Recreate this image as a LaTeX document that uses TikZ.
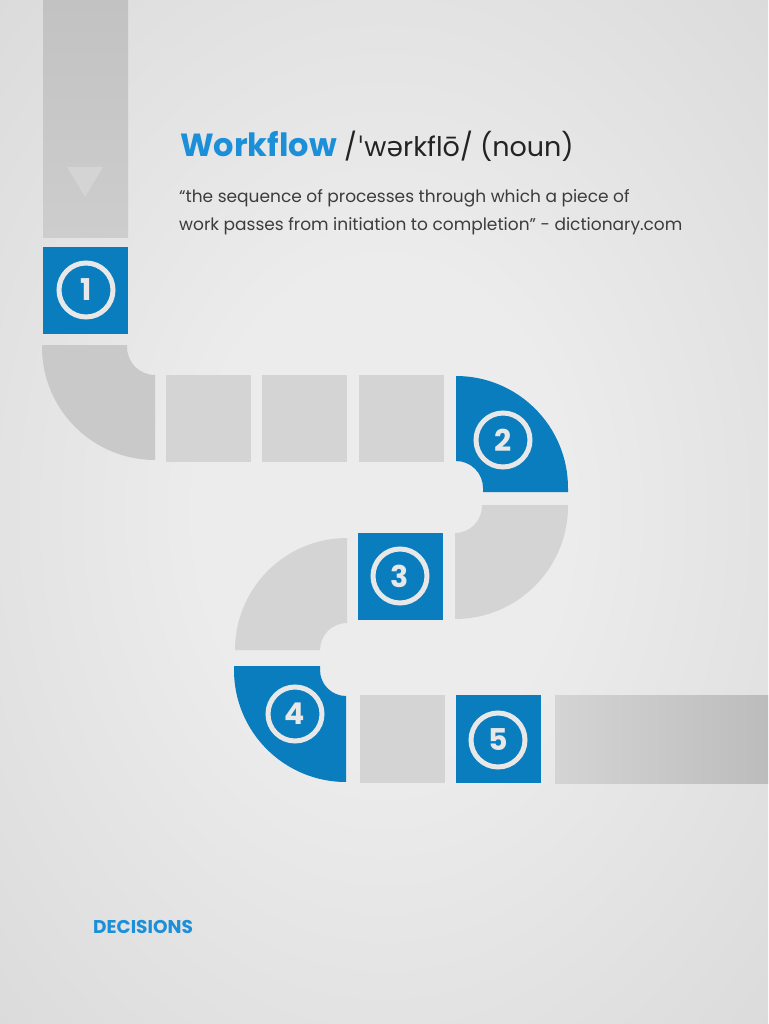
\documentclass[tikz,border=0pt]{standalone}
\usepackage{fontspec}
\setmainfont{Poppins}
\newfontfamily\ipa{DejaVu Sans}
\definecolor{bgin}{HTML}{ECECEC}
\definecolor{bgout}{HTML}{CDCDCD}
\definecolor{flowblue}{HTML}{0A7DBF}
\definecolor{titleblue}{HTML}{1C8FD9}
\definecolor{pipegrey}{HTML}{D4D4D4}
\definecolor{bendgrey}{HTML}{C9C9C9}
\definecolor{ringgrey}{HTML}{E8E8E8}
\definecolor{textdark}{HTML}{232323}
\definecolor{textgrey}{HTML}{3C3C3C}
\definecolor{toptop}{HTML}{C2C2C2}
\definecolor{topbot}{HTML}{CDCDCD}
\definecolor{arrowgrey}{HTML}{D4D4D4}
\definecolor{barleft}{HTML}{D4D4D4}
\definecolor{barright}{HTML}{BCBCBC}
\pgfdeclareradialshading{bgshade}{\pgfpoint{0bp}{0bp}}{color(0bp)=(bgin); color(12bp)=(bgin); color(55bp)=(bgout); color(71bp)=(bgout)}
\begin{document}
\begin{tikzpicture}[x=1pt,y=-1pt,
  pipe/.style={fill=pipegrey},
  bluebox/.style={fill=flowblue},
  ring/.style={draw=ringgrey,line width=5pt},
  digit/.style={text=ringgrey,font=\fontsize{30}{30}\selectfont\bfseries,inner sep=0pt},
  txt/.style={anchor=base west,inner sep=0pt}]
\useasboundingbox (0,0) rectangle (768,1024);
\shade[shading=bgshade] (0,0) rectangle (768,1024);

% top vertical pipe with arrow
\shade[top color=toptop, bottom color=topbot] (43,0) rectangle (128,237);
\fill[arrowgrey] (67,167) -- (103,167) -- (85,197) -- cycle;

% step 1
\fill[bluebox] (43,247) rectangle (128,334);
\draw[ring] (86,290) circle[radius=27];
\node[digit] (n1) at (86,290) {1};

% bend 1
\fill[bendgrey] (42,345) -- (127,345) -- (127,347) arc[start angle=180,end angle=90,radius=28] -- (155,460) arc[start angle=90,end angle=180,radius=113] -- cycle;

% horizontal squares
\fill[pipe] (166,375) rectangle (251,462);
\fill[pipe] (262,375) rectangle (347,462);
\fill[pipe] (359,375) rectangle (444,462);

% step 2 (bend)
\fill[bluebox] (456,376) arc[start angle=270,end angle=360,radius=112] -- (568,492) -- (483,492) -- (483,488) arc[start angle=0,end angle=-90,radius=27] -- cycle;
\draw[ring] (503,440) circle[radius=27];
\node[digit] (n2) at (503,440) {2};

% grey bend between 2 and 3
\fill[pipe] (482,505) -- (568,505) -- (568,506) arc[start angle=0,end angle=90,radius=113] -- (455,533) arc[start angle=90,end angle=0,radius=27] -- cycle;

% step 3
\fill[bluebox] (358,533) rectangle (443,620);
\draw[ring] (400,576) circle[radius=27];
\node[digit] (n3) at (400,576) {3};

% grey bend left of 3
\fill[pipe] (347,538) arc[start angle=270,end angle=180,radius=112] -- (320,650) arc[start angle=180,end angle=270,radius=27] -- cycle;

% step 4 (bend)
\fill[bluebox] (234,666) -- (320,666) -- (320,670) arc[start angle=180,end angle=90,radius=26] -- (346,782) arc[start angle=90,end angle=180,radius=112] -- cycle;
\draw[ring] (295,714) circle[radius=27];
\node[digit] (n4) at (295,714) {4};

% bottom row
\fill[pipe] (360,695) rectangle (445,783);
\fill[bluebox] (456,695) rectangle (541,783);
\draw[ring] (498,740) circle[radius=27];
\node[digit] (n5) at (498,740) {5};
\shade[left color=barleft, right color=barright] (555,695) rectangle (768,783);

% texts
\node[txt,text=titleblue,font=\fontsize{32}{38}\selectfont\bfseries] (title) at (180,157) {Workflow};
\node[txt,text=textdark,font=\fontsize{27}{32}\selectfont] (pron) at (344,157) {/{\ipa ˈ}w{\ipa ə}rkflō/ (noun)};
\node[txt,text=textgrey,font=\fontsize{17}{20}\selectfont] (q1) at (179,203) {“the sequence of processes through which a piece of};
\node[txt,text=textgrey,font=\fontsize{17}{20}\selectfont] (q2) at (179,230) {work passes from initiation to completion” - dictionary.com};
\node[txt,text=titleblue,font=\fontsize{18.5}{22}\selectfont\bfseries] (dec) at (93,933) {DECISIONS};
\end{tikzpicture}
\end{document}
